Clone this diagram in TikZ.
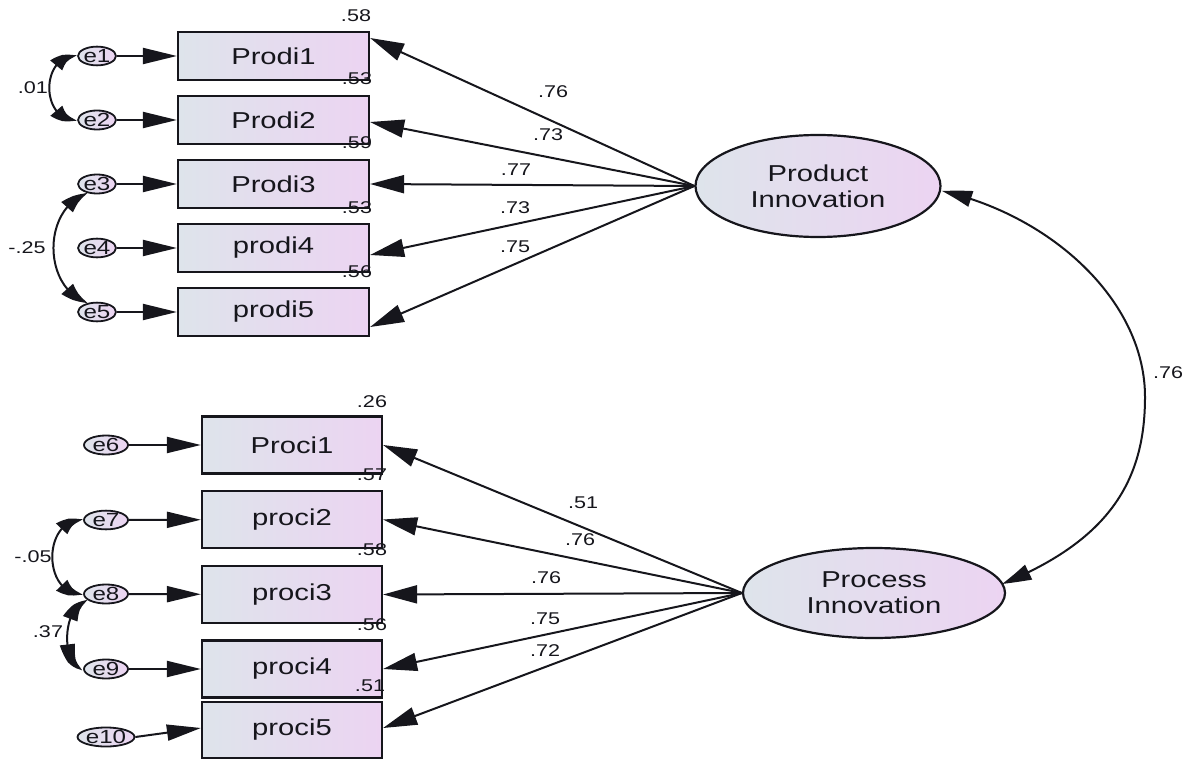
\documentclass[tikz,border=0pt]{standalone}
\usepackage{fontspec}
\setmainfont[FakeStretch=1.27]{Liberation Sans}
\usetikzlibrary{arrows.meta,bending,shapes.geometric}
\definecolor{fillL}{RGB}{222,228,235}
\definecolor{fillR}{RGB}{236,212,242}
\definecolor{ink}{RGB}{22,22,28}
\begin{document}
\begin{tikzpicture}[x=1pt,y=-1pt,
  every node/.style={text=ink},
  obs/.style={draw=ink, line width=2.2pt, left color=fillL, right color=fillR,
    inner sep=0pt, font=\fontsize{23}{26}\selectfont},
  topbox/.style={obs, minimum width=191pt, minimum height=48pt},
  lowbox/.style={obs, minimum width=180pt, minimum height=57pt},
  lat/.style={ellipse, draw=ink, line width=2.2pt, left color=fillL, right color=fillR,
    inner sep=0pt, align=center, font=\fontsize{23}{26}\selectfont},
  err/.style={ellipse, draw=ink, line width=1.8pt, left color=fillL, right color=fillR,
    inner sep=0pt, font=\fontsize{19}{19}\selectfont},
  errtop/.style={err, minimum width=36pt, minimum height=15pt},
  errlow/.style={err, minimum width=44pt, minimum height=17pt},
  lbl/.style={inner sep=0pt, font=\fontsize{17}{19}\selectfont},
  load/.style={draw=ink, line width=2pt, -{Triangle[length=34pt,width=18pt]}},
  res/.style={draw=ink, line width=2pt, -{Triangle[length=34pt,width=16pt]}},
  cov/.style={draw=ink, line width=2pt,
    {Triangle[bend,length=26pt,width=15pt]}-{Triangle[bend,length=26pt,width=15pt]}},
  fcov/.style={draw=ink, line width=2pt,
    {Triangle[bend,length=30pt,width=16pt]}-{Triangle[bend,length=30pt,width=16pt]}}
]
\useasboundingbox (0,0) rectangle (1191,762);

% observed indicators of product innovation
\node[topbox] (p1) at (273.5,56)  {Prodi1};
\node[topbox] (p2) at (273.5,120) {Prodi2};
\node[topbox] (p3) at (273.5,184) {Prodi3};
\node[topbox] (p4) at (273.5,248) {prodi4};
\node[topbox] (p5) at (273.5,312) {prodi5};

% observed indicators of process innovation
\node[lowbox] (q1) at (292,445)   {Proci1};
\node[lowbox] (q2) at (292,519.5) {proci2};
\node[lowbox] (q3) at (292,594.5) {proci3};
\node[lowbox] (q4) at (292,669)   {proci4};
\node[lowbox, minimum height=56pt] (q5) at (292,730) {proci5};

% latent factors
\node[lat, minimum width=245pt, minimum height=102pt] (PD) at (818,186) {Product\\Innovation};
\node[lat, minimum width=262pt, minimum height=90pt]  (PC) at (874,593) {Process\\Innovation};

% error terms
\node[errtop] (e1) at (97,56)  {e1};
\node[errtop] (e2) at (97,120) {e2};
\node[errtop] (e3) at (97,184) {e3};
\node[errtop] (e4) at (97,248) {e4};
\node[errtop] (e5) at (97,312) {e5};
\node[errlow] (e6) at (106,445) {e6};
\node[errlow] (e7) at (106,520) {e7};
\node[errlow] (e8) at (106,594) {e8};
\node[errlow] (e9) at (106,669) {e9};
\node[errlow] (e10) at (106,737) {e10};

% error paths
\draw[res] (e1) -- (p1);
\draw[res] (e2) -- (p2);
\draw[res] (e3) -- (p3);
\draw[res] (e4) -- (p4);
\draw[res] (e5) -- (p5);
\draw[res] (e6) -- (q1);
\draw[res] (e7) -- (q2);
\draw[res] (e8) -- (q3);
\draw[res] (e9) -- (q4);
\draw[res] (e10.east) -- ([yshift=2pt]q5.west);

% factor loadings
\draw[load] (PD.west) -- ([yshift=18pt]p1.east);
\draw[load] (PD.west) -- ([yshift=-2pt]p2.east);
\draw[load] (PD.west) -- (p3.east);
\draw[load] (PD.west) -- ([yshift=-7pt]p4.east);
\draw[load] (PD.west) -- ([yshift=-15pt]p5.east);
\draw[load] (PC.west) -- (q1.east);
\draw[load] (PC.west) -- (q2.east);
\draw[load] (PC.west) -- (q3.east);
\draw[load] (PC.west) -- (q4.east);
\draw[load] (PC.west) -- ([yshift=2pt]q5.east);

% covariances between error terms
\draw[cov] (e1.west) .. controls (40,54) and (40,122) .. (e2.west);
\draw[cov] (e3.225) .. controls (42,208) and (42,288) .. (e5.135);
\draw[cov] (e7.west) .. controls (42,518) and (42,596) .. (e8.west);
\draw[cov] (e8.200) .. controls (60,606) and (62,669) .. (e9.west);
% covariance between the factors
\coordinate (pdr) at (942,191);
\coordinate (pcr) at (1002,584);
\draw[fcov] (pdr) .. controls (1050,215) and (1145,300) .. (1145,397)
                  .. controls (1145,480) and (1110,540) .. (pcr);

% loading estimates
\node[lbl] (l1) at (553,92)  {.76};
\node[lbl] (l2) at (548,135) {.73};
\node[lbl] (l3) at (516,170) {.77};
\node[lbl] (l4) at (515,208) {.73};
\node[lbl] (l5) at (515,247) {.75};
\node[lbl] (m1) at (583,503) {.51};
\node[lbl] (m2) at (580,540) {.76};
\node[lbl] (m3) at (546,578) {.76};
\node[lbl] (m4) at (545,619) {.75};
\node[lbl] (m5) at (545,651) {.72};

% squared multiple correlations
\node[lbl] (r1) at (356,16)  {.58};
\node[lbl] (r2) at (357,79)  {.53};
\node[lbl] (r3) at (357,143) {.59};
\node[lbl] (r4) at (357,208) {.53};
\node[lbl] (r5) at (357,272) {.56};
\node[lbl] (s1) at (372,402) {.26};
\node[lbl] (s2) at (372,475) {.57};
\node[lbl] (s3) at (372,550) {.58};
\node[lbl] (s4) at (372,625) {.56};
\node[lbl] (s5) at (370,686) {.51};

% covariance estimates
\node[lbl] (c1) at (33,88)   {.01};
\node[lbl] (c2) at (27,248)  {-.25};
\node[lbl] (c3) at (33,557)  {-.05};
\node[lbl] (c4) at (48,632)  {.37};
\node[lbl] (c5) at (1168,373) {.76};
\end{tikzpicture}
\end{document}
